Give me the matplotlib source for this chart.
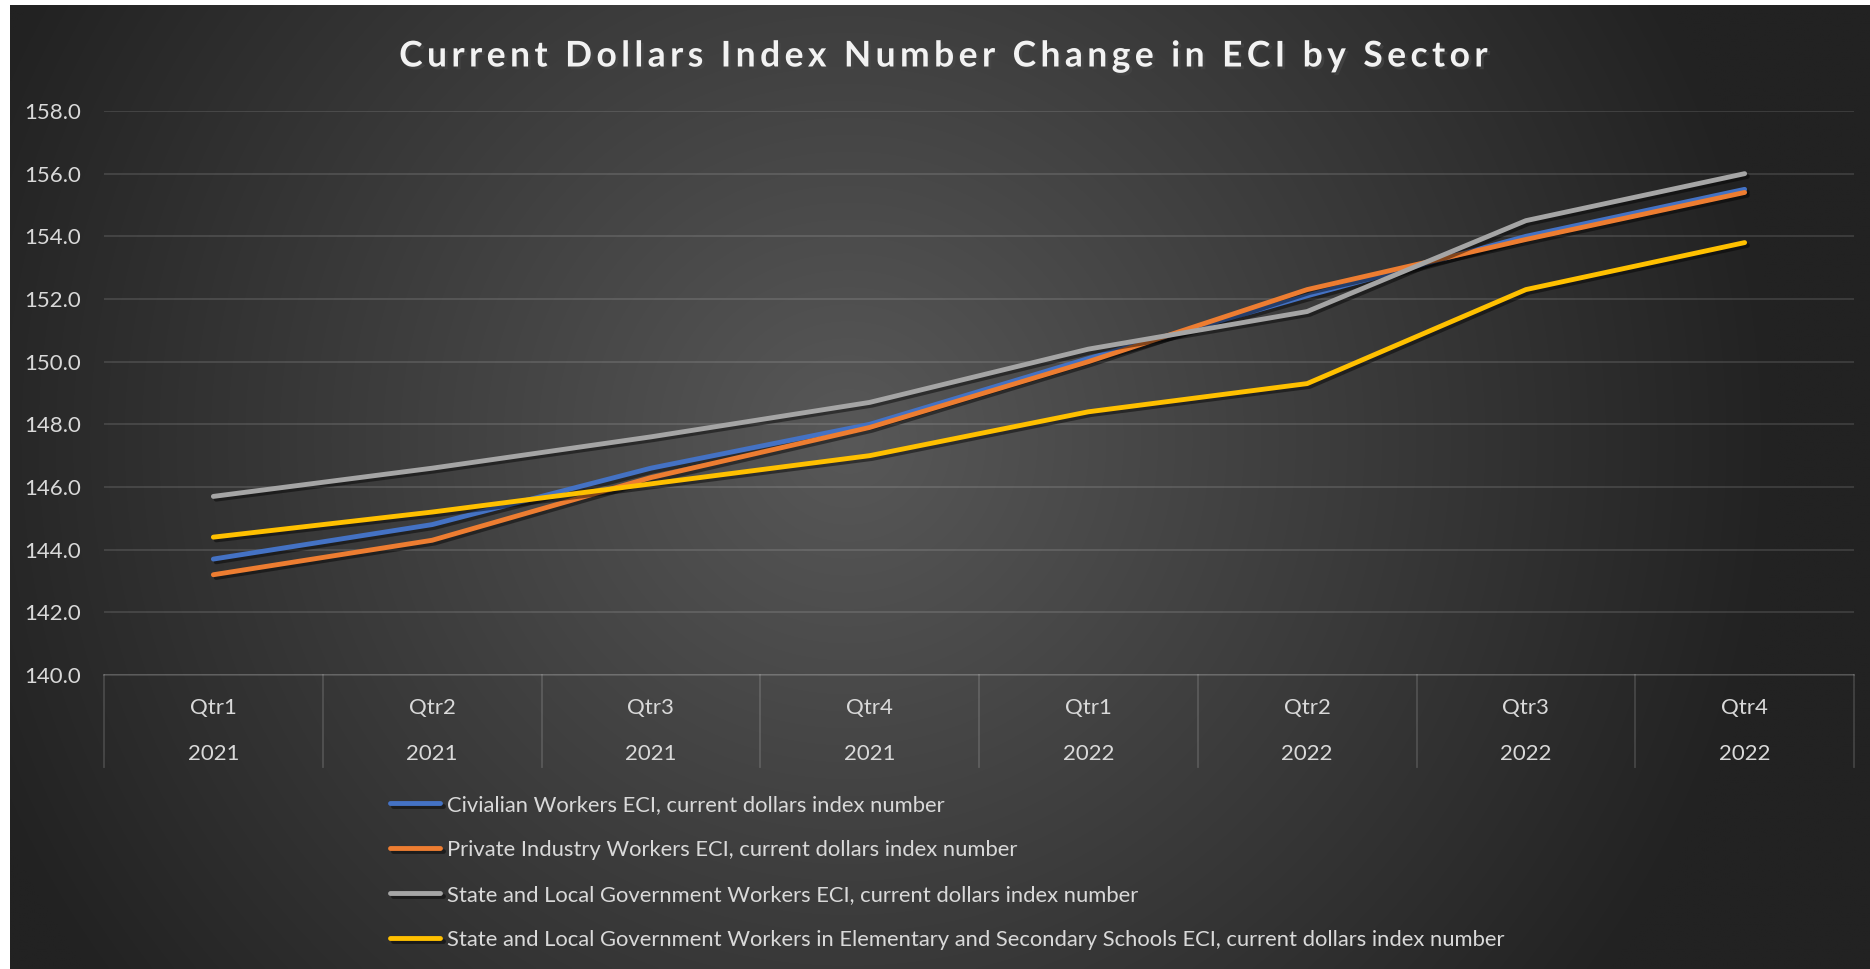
import matplotlib.pyplot as plt
import matplotlib.patheffects as pe
import numpy as np

quarters = ["Qtr1", "Qtr2", "Qtr3", "Qtr4", "Qtr1", "Qtr2", "Qtr3", "Qtr4"]
years = ["2021", "2021", "2021", "2021", "2022", "2022", "2022", "2022"]

civilian = [143.7, 144.8, 146.6, 148.0, 150.1, 152.1, 154.0, 155.5]
private = [143.2, 144.3, 146.3, 147.9, 150.0, 152.3, 153.9, 155.4]
state_local = [145.7, 146.6, 147.6, 148.7, 150.4, 151.6, 154.5, 156.0]
schools = [144.4, 145.2, 146.1, 147.0, 148.4, 149.3, 152.3, 153.8]

series_names = [
    "Civialian Workers ECI, current dollars index number",
    "Private Industry Workers ECI, current dollars index number",
    "State and Local Government Workers ECI, current dollars index number",
    "State and Local Government Workers in Elementary and Secondary Schools ECI, current dollars index number",
]
series_colors = ["#4472C4", "#ED7D31", "#A5A5A5", "#FFC000"]
title = "Current Dollars Index Number Change in ECI by Sector"

plt.rcParams['font.family'] = ['Lato', 'DejaVu Sans']

W, H = 1870, 969
fig = plt.figure(figsize=(W / 100, H / 100), dpi=100)
fig.patch.set_facecolor("white")

# dark radial gradient background
bg = fig.add_axes([10 / W, 0, 1 - 10 / W, 1 - 5 / H])
bg.set_axis_off()
yy, xx = np.mgrid[0:400, 0:800]
gx = (xx / 800 - 0.45) * 1.9
gy = (yy / 400 - 0.45) * 1.0
r = np.clip(np.sqrt(gx ** 2 + gy ** 2) / 0.95, 0, 1)
light = np.array([0x58, 0x58, 0x58]) / 255
dark = np.array([0x22, 0x22, 0x22]) / 255
img = light[None, None, :] * (1 - r[..., None]) + dark[None, None, :] * r[..., None]
bg.imshow(img, aspect="auto", extent=[0, 1, 0, 1], interpolation="bilinear")

left, right, top, bottom = 104, 1854, 111, 675
ax = fig.add_axes([left / W, 1 - bottom / H, (right - left) / W, (bottom - top) / H])
ax.set_facecolor("none")

x = np.arange(len(quarters))
shadow = [pe.SimpleLineShadow(offset=(2, -2), shadow_color="black", alpha=0.45), pe.Normal()]
for vals, name, col in zip([civilian, private, state_local, schools], series_names, series_colors):
    ax.plot(x, vals, color=col, lw=3.5, label=name, solid_capstyle="round",
            path_effects=shadow)

ax.set_xlim(-0.5, len(quarters) - 0.5)
ax.set_ylim(140, 158)
ax.set_yticks(np.arange(140, 158.1, 2))
ax.set_yticklabels([f"{v:.1f}" for v in np.arange(140, 158.1, 2)])
ax.grid(axis="y", color="white", alpha=0.13, lw=1.3)
ax.set_axisbelow(True)
for s in ["left", "right", "top"]:
    ax.spines[s].set_visible(False)
ax.spines["bottom"].set_color((1, 1, 1, 0.15))
ax.spines["bottom"].set_linewidth(1.3)
ax.tick_params(axis="y", length=0, pad=16.5, labelsize=16, labelcolor="#D9D9D9")
ax.tick_params(axis="x", length=0, labelbottom=False)

# category table below the axis
trans = ax.get_xaxis_transform()
ph = bottom - top
for b in np.arange(-0.5, len(quarters), 1.0):
    ax.plot([b, b], [0, -92 / ph], transform=trans, color=(1, 1, 1, 0.15), lw=1.3, clip_on=False)
for i, (q, yv) in enumerate(zip(quarters, years)):
    ax.text(i, -33 / ph, q, transform=trans, ha="center", va="center", fontsize=16, color="#D9D9D9")
    ax.text(i, -79 / ph, yv, transform=trans, ha="center", va="center", fontsize=16, color="#D9D9D9")

# spaced-out title
spaced = "\u200a\u200a".join(title)
fig.text(945 / W, 1 - 56.5 / H, spaced,
         ha="center", va="center", fontsize=25.5, fontweight="bold", color="#F2F2F2",
         path_effects=[pe.SimplePatchShadow(offset=(2, -2), alpha=0.6), pe.Normal()])

leg = fig.legend(loc="upper left", bbox_to_anchor=(390 / W, 1 - 795 / H), frameon=False,
                 fontsize=15.8, handlelength=2.3, handletextpad=0.28, labelspacing=1.14,
                 borderpad=0, borderaxespad=0)
for t in leg.get_texts():
    t.set_color("#D9D9D9")
for h in leg.get_lines():
    h.set_linewidth(3.5)

fig.savefig("out.png", dpi=100, facecolor=fig.get_facecolor())
